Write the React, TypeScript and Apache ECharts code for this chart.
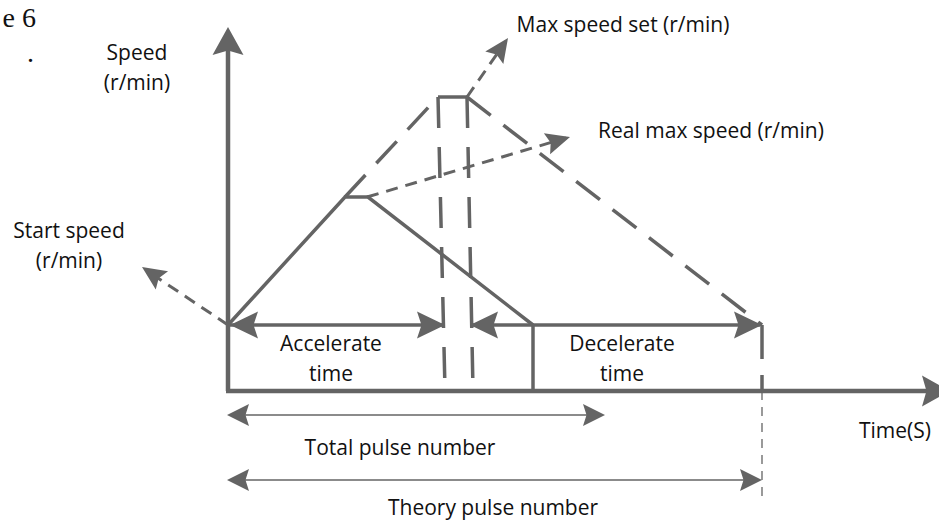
import React, { useEffect, useRef } from "react";
import * as echarts from "echarts";

const W = 939;
const H = 520;
const INK = "#646464";
const TEXT = "#111111";
const FONT = "'Open Sans'";

// Diagram geometry, in diagram units (x: time direction, y: downward)
const speedAxis = [[228, 391], [228, 45]];
const timeAxis = [[226, 391], [930, 391]];
const realProfile = [[228, 325], [345, 197], [368, 197], [533, 325]];
const theoryRise = [[345, 197], [438, 97]];
const theoryTop = [[438, 97], [467, 97]];
const theoryFall = [[467, 97], [762, 325]];
const theoryLeftDrop = [[438, 97], [445, 389]];
const theoryRightDrop = [[467, 97], [473, 389]];
const accelSpan = [[228, 325], [443, 325]];
const decelSpan = [[472, 325], [760, 325]];
const decelEdge = [[533, 325], [533, 391]];
const theoryEnd = [[762, 325], [762, 391]];
const theoryGuide = [[762, 391], [762, 498]];
const maxSetPointer = [[467, 97], [506, 41]];
const realMaxPointer = [[367, 197], [566, 138]];
const startPointer = [[228, 325], [146, 270]];
const totalPulse = [[229, 415], [603, 415]];
const theoryPulse = [[229, 480], [760, 480]];

// Arrow heads: [tipX, tipY, shaftX, shaftY]
const axisHeads = [[228, 27, 228, 100], [950, 391, 880, 391]];
const spanHeads = [[230, 325, 300, 325], [445, 325, 380, 325], [470, 325, 530, 325], [762, 325, 700, 325]];
const pointerHeads = [[508, 38, 467, 97], [570, 137, 367, 197], [142, 267, 228, 325]];
const pulseHeads = [[227, 415, 300, 415], [605, 415, 500, 415], [227, 480, 300, 480], [762, 480, 700, 480]];

// Two-line labels
const stackedTexts = ["Speed\n(r/min)", "Start speed\n(r/min)", "Accelerate\ntime", "Decelerate\ntime"];
const stackedX = [137, 69, 331, 622];
const stackedY = [67, 245, 358, 358];

// One-line labels
const singleTexts = [
  "Max speed set (r/min)",
  "Real max speed (r/min)",
  "Time(S)",
  "Total pulse number",
  "Theory pulse number",
];
const singleX = [623, 711, 895, 400, 493];
const singleY = [24, 130, 430, 447, 507];

const captionTexts = ["e 6", "."];
const captionX = [36, 34];
const captionY = [17, 52];

function lineSeries(data: number[][], width: number, dash: any = "solid") {
  return {
    type: "line",
    data,
    showSymbol: false,
    symbol: "none",
    silent: true,
    clip: false,
    animation: false,
    lineStyle: { color: INK, width, type: dash, cap: "butt", join: "miter" },
    z: 2,
  };
}

function headSeries(data: number[][], len: number, half: number) {
  return {
    type: "custom",
    data,
    silent: true,
    clip: false,
    z: 3,
    renderItem: (_params: any, api: any) => {
      const tip = api.coord([api.value(0), api.value(1)]);
      const from = api.coord([api.value(2), api.value(3)]);
      const dx = tip[0] - from[0];
      const dy = tip[1] - from[1];
      const d = Math.hypot(dx, dy) || 1;
      const ux = dx / d;
      const uy = dy / d;
      const nx = -uy;
      const ny = ux;
      const bx = tip[0] - ux * len;
      const by = tip[1] - uy * len;
      const mx = tip[0] - ux * len * 0.84;
      const my = tip[1] - uy * len * 0.84;
      return {
        type: "polygon",
        shape: {
          points: [
            [tip[0], tip[1]],
            [bx + nx * half, by + ny * half],
            [mx, my],
            [bx - nx * half, by - ny * half],
          ],
        },
        style: { fill: INK },
      };
    },
  };
}

function labelSeries(texts: string[], xs: number[], ys: number[], extra: any) {
  return {
    type: "scatter",
    symbol: "circle",
    symbolSize: 1,
    silent: true,
    clip: false,
    itemStyle: { color: "rgba(0,0,0,0)" },
    z: 5,
    data: texts.map((t, i) => ({ name: t, value: [xs[i], ys[i]] })),
    label: {
      show: true,
      position: "inside",
      formatter: (p: any) => p.name,
      color: TEXT,
      opacity: 1,
      ...extra,
    },
    labelLayout: { hideOverlap: false },
  };
}

export default function App() {
  const ref = useRef<HTMLDivElement>(null);
  useEffect(() => {
    if (!ref.current) return;
    const chart = echarts.init(ref.current, undefined, { renderer: "svg" });
    const longDash = [30, 16];
    const dropDash = [31, 19];
    const shortDash = [12, 8];
    chart.setOption({
      animation: false,
      backgroundColor: "#ffffff",
      grid: { left: 0, right: 0, top: 0, bottom: 0, containLabel: false },
      xAxis: { type: "value", min: 0, max: W, show: false },
      yAxis: { type: "value", min: 0, max: H, inverse: true, show: false },
      series: [
        lineSeries(speedAxis, 4.5),
        lineSeries(timeAxis, 4.5),
        lineSeries(realProfile, 3.5),
        lineSeries(theoryRise, 3.5, longDash),
        lineSeries(theoryTop, 3.5),
        lineSeries(theoryFall, 3.5, longDash),
        lineSeries(theoryLeftDrop, 3.5, dropDash),
        lineSeries(theoryRightDrop, 3.5, dropDash),
        lineSeries(accelSpan, 3.5),
        lineSeries(decelSpan, 3.5),
        lineSeries(decelEdge, 3.5),
        lineSeries(theoryEnd, 3.5, [34, 16]),
        lineSeries(theoryGuide, 1.3, [9, 7]),
        lineSeries(maxSetPointer, 3, shortDash),
        lineSeries(realMaxPointer, 3, shortDash),
        lineSeries(startPointer, 3, shortDash),
        lineSeries(totalPulse, 1.6),
        lineSeries(theoryPulse, 1.6),
        headSeries(axisHeads, 28, 15.5),
        headSeries(spanHeads, 28, 13.5),
        headSeries(pointerHeads, 24, 11),
        headSeries(pulseHeads, 22, 11),
        labelSeries(stackedTexts, stackedX, stackedY, {
          fontFamily: FONT,
          fontSize: 21,
          lineHeight: 30,
          align: "center",
          verticalAlign: "middle",
        }),
        labelSeries(singleTexts, singleX, singleY, {
          fontFamily: FONT,
          fontSize: 21,
          lineHeight: 24,
          align: "center",
          verticalAlign: "middle",
        }),
        labelSeries(captionTexts, captionX, captionY, {
          fontFamily: "Liberation Serif",
          fontSize: 28,
          lineHeight: 30,
          align: "right",
          verticalAlign: "middle",
        }),
      ],
    });
    return () => chart.dispose();
  }, []);
  return (
    <div
      ref={ref}
      style={{ position: "fixed", left: 0, top: 0, width: W, height: H, background: "#fff" }}
    />
  );
}
